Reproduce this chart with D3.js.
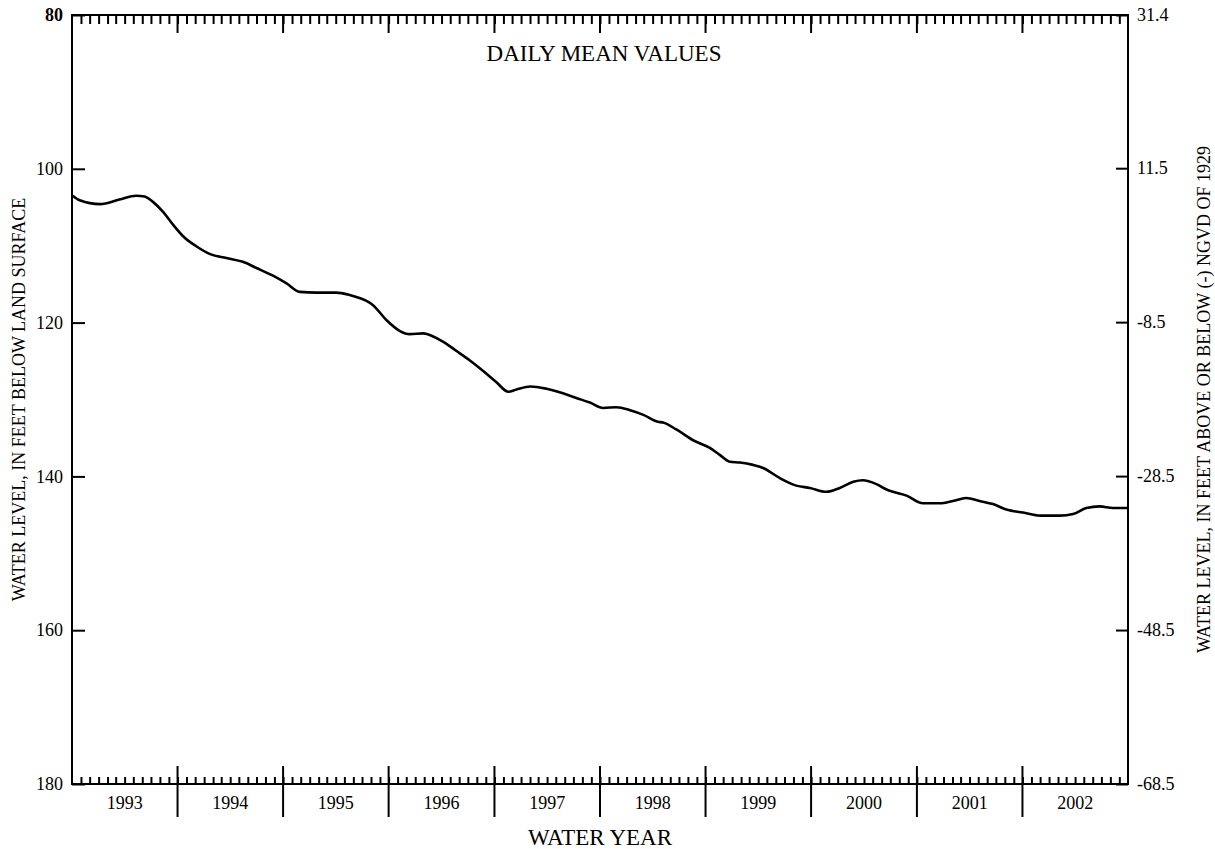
<!DOCTYPE html>
<html>
<head>
<meta charset="utf-8">
<script src="https://cdn.jsdelivr.net/npm/d3@7"></script>
<style>
  html, body { margin: 0; padding: 0; background: #fff; }
  svg { display: block; }
  text { font-family: "Liberation Serif", "Times New Roman", serif; fill: #000; }
</style>
</head>
<body>
<svg id="chart" width="1215" height="849"></svg>
<script>
// ---- data ----
const waterYears = [1993, 1994, 1995, 1996, 1997, 1998, 1999, 2000, 2001, 2002];
const leftTicks = [80, 100, 120, 140, 160, 180];
const rightTicks = [31.4, 11.5, -8.5, -28.5, -48.5, -68.5];
const dates = [
  "1992-10-03","1992-10-28","1993-01-06","1993-03-14","1993-05-11","1993-06-09","1993-07-08","1993-08-12","1993-09-16",
  "1993-10-21","1993-12-06","1994-01-22","1994-03-19","1994-05-15","1994-07-01","1994-08-27",
  "1994-10-13","1994-11-28","1995-01-25","1995-04-03","1995-05-19","1995-06-22","1995-07-27","1995-08-07","1995-09-24",
  "1995-11-09","1995-12-13","1996-01-29","1996-03-03","1996-04-07","1996-05-23","1996-07-07","1996-08-23",
  "1996-10-09","1996-11-18","1996-12-16","1997-02-02","1997-03-30","1997-05-26","1997-07-11","1997-08-27",
  "1997-10-12","1997-11-28","1998-01-13","1998-02-28","1998-04-19","1998-05-07","1998-06-22","1998-08-19",
  "1998-10-16","1998-11-19","1998-12-24","1999-01-28","1999-03-14","1999-04-18","1999-06-14","1999-08-11","1999-09-27",
  "1999-11-23","2000-01-08","2000-02-24","2000-03-28","2000-05-14","2000-06-18","2000-07-10","2000-08-26",
  "2000-10-22","2000-12-19","2001-02-03","2001-03-20","2001-05-06","2001-06-21","2001-08-06",
  "2001-10-03","2001-12-01","2002-02-08","2002-03-25","2002-05-10","2002-06-25","2002-08-10","2002-09-30"
];
const levels = [
  103.5,104.1,104.6,104.0,103.5,103.6,104.3,105.6,107.3,
  108.8,110.1,111.1,111.6,112.1,112.9,113.9,
  114.9,116.0,116.1,116.1,116.4,116.8,117.4,117.7,119.7,
  121.1,121.5,121.4,121.8,122.5,123.7,124.9,126.3,
  127.8,129.0,128.7,128.3,128.6,129.2,129.8,130.4,
  131.1,131.0,131.4,132.0,132.9,133.0,133.9,135.3,
  136.3,137.2,138.1,138.2,138.5,138.9,140.2,141.2,141.5,
  142.0,141.5,140.7,140.5,141.0,141.7,142.0,142.5,
  143.5,143.5,143.2,142.8,143.2,143.6,144.3,
  144.7,145.1,145.1,144.9,144.1,143.9,144.1,144.1
];

// ---- layout ----
const L = 72, R = 1128, T = 15, B = 784;
const svg = d3.select("#chart");
const parse = d3.utcParse("%Y-%m-%d");
const start = new Date(Date.UTC(waterYears[0] - 1, 9, 1));
const end = new Date(Date.UTC(waterYears[waterYears.length - 1], 9, 1));

const x = d3.scaleUtc().domain([start, end]).range([L, R]);
const yL = d3.scaleLinear().domain([80, 180]).range([T, B]);
const yR = d3.scaleLinear().domain([31.4, -68.5]).range([T, B]);

const months = d3.utcMonth.range(start, end).slice(1);
const boundaries = waterYears.slice(1).map(y => new Date(Date.UTC(y - 1, 9, 1)));

// minor month ticks, bottom and top (inward)
svg.append("g").attr("transform", `translate(0,${B})`)
  .call(d3.axisBottom(x).tickValues(months).tickSize(-7).tickFormat(""))
  .call(g => g.select(".domain").remove())
  .call(g => g.selectAll("line").attr("stroke", "#000").attr("stroke-width", 2));
svg.append("g").attr("transform", `translate(0,${T})`)
  .call(d3.axisTop(x).tickValues(months).tickSize(-9).tickFormat(""))
  .call(g => g.select(".domain").remove())
  .call(g => g.selectAll("line").attr("stroke", "#000").attr("stroke-width", 2));

// water-year boundary ticks
svg.append("g").selectAll("line.yb").data(boundaries).join("line")
  .attr("x1", d => x(d)).attr("x2", d => x(d))
  .attr("y1", B - 18).attr("y2", B + 33)
  .attr("stroke", "#000").attr("stroke-width", 2);
svg.append("g").selectAll("line.yt").data(boundaries).join("line")
  .attr("x1", d => x(d)).attr("x2", d => x(d))
  .attr("y1", T).attr("y2", T + 18)
  .attr("stroke", "#000").attr("stroke-width", 2);

// year labels
svg.append("g").selectAll("text").data(waterYears).join("text")
  .attr("x", d => (x(new Date(Date.UTC(d - 1, 9, 1))) + x(new Date(Date.UTC(d, 9, 1)))) / 2)
  .attr("y", 809)
  .attr("text-anchor", "middle")
  .attr("font-size", 18)
  .text(d => d);

// left axis
svg.append("g").attr("transform", `translate(${L},0)`)
  .call(d3.axisLeft(yL).tickValues(leftTicks).tickSize(-13).tickPadding(9).tickFormat(d => String(d)))
  .call(g => g.select(".domain").remove())
  .call(g => g.selectAll("line").attr("stroke", "#000").attr("stroke-width", 2))
  .call(g => g.selectAll("text").attr("font-size", 18).attr("font-family", "Liberation Serif").attr("fill", "#000")
    .attr("font-weight", d => d === leftTicks[0] ? "bold" : "normal"));

// right axis
svg.append("g").attr("transform", `translate(${R},0)`)
  .call(d3.axisRight(yR).tickValues(rightTicks).tickSize(-12).tickPadding(9).tickFormat(d => d.toFixed(1)))
  .call(g => g.select(".domain").remove())
  .call(g => g.selectAll("line").attr("stroke", "#000").attr("stroke-width", 2))
  .call(g => g.selectAll("text").attr("font-size", 18).attr("font-family", "Liberation Serif").attr("fill", "#000"));

// frame
svg.append("rect").attr("x", L).attr("y", T).attr("width", R - L).attr("height", B - T)
  .attr("fill", "none").attr("stroke", "#000").attr("stroke-width", 2);

// data line
const line = d3.line().x((d, i) => x(parse(dates[i]))).y(d => yL(d)).curve(d3.curveMonotoneX);
svg.append("path").datum(levels).attr("d", line)
  .attr("fill", "none").attr("stroke", "#000").attr("stroke-width", 2.6).attr("stroke-linejoin", "round");

// titles
svg.append("text").attr("x", 604).attr("y", 61).attr("text-anchor", "middle")
  .attr("font-size", 23).text("DAILY MEAN VALUES");
svg.append("text").attr("x", 600).attr("y", 845).attr("text-anchor", "middle")
  .attr("font-size", 23).text("WATER YEAR");
svg.append("text").attr("transform", `translate(25,${(T + B) / 2}) rotate(-90)`)
  .attr("text-anchor", "middle").attr("font-size", 18)
  .text("WATER LEVEL, IN FEET BELOW LAND SURFACE");
svg.append("text").attr("transform", `translate(1210,${(T + B) / 2}) rotate(-90)`)
  .attr("text-anchor", "middle").attr("font-size", 18)
  .text("WATER LEVEL, IN FEET ABOVE OR BELOW (-) NGVD OF 1929");
</script>
</body>
</html>
